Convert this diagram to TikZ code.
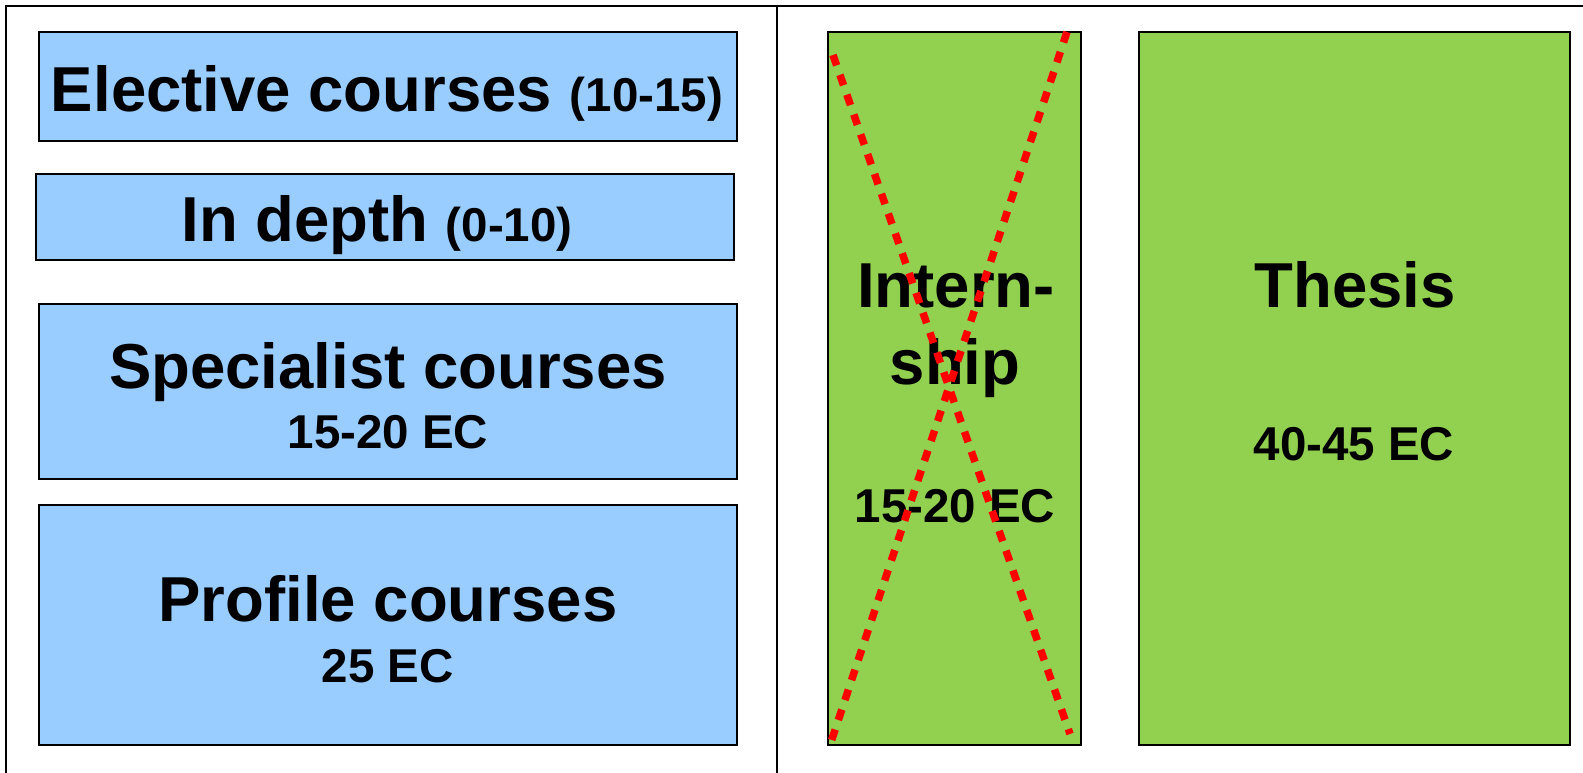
\documentclass[tikz,border=0pt]{standalone}
\usepackage{fontspec}
\setmainfont{Liberation Sans}
\definecolor{boxblue}{HTML}{99CCFF}
\definecolor{boxgreen}{HTML}{92D050}
\definecolor{crossred}{HTML}{FF0000}
\begin{document}
\begin{tikzpicture}[x=1pt,y=-1pt,
  bluebox/.style={draw=black,line width=2pt,fill=boxblue,anchor=north west,inner sep=0pt,outer sep=0pt},
  greenbox/.style={draw=black,line width=2pt,fill=boxgreen,anchor=north west,inner sep=0pt,outer sep=0pt},
  bigtxt/.style={anchor=base,inner sep=0pt,font=\bfseries\fontsize{63.5}{70}\selectfont},
  smalltxt/.style={anchor=base,inner sep=0pt,font=\bfseries\fontsize{47.5}{52}\selectfont},
  frameline/.style={draw=black,line width=2pt},
  crossline/.style={draw=crossred,line width=7.5pt,dash pattern=on 11pt off 10pt}]
\useasboundingbox (0,0) rectangle (1583,773);
% frame
\coordinate (ftl) at (6,6);
\coordinate (ftr) at (1583,6);
\coordinate (fbl) at (6,773);
\coordinate (dtop) at (777,6);
\coordinate (dbot) at (777,773);
\draw[frameline] (ftr) -- (ftl) -- (fbl);
\draw[frameline] (dtop) -- (dbot);
% left boxes
\node[bluebox,minimum width=698pt,minimum height=109pt] (elective) at (39,32) {};
\node[bluebox,minimum width=698pt,minimum height=86pt] (indepth) at (36,174) {};
\node[bluebox,minimum width=698pt,minimum height=175pt] (specialist) at (39,304) {};
\node[bluebox,minimum width=698pt,minimum height=240pt] (profile) at (39,505) {};
% right boxes
\node[greenbox,minimum width=253pt,minimum height=713pt] (intern) at (828,32) {};
\node[greenbox,minimum width=431pt,minimum height=713pt] (thesis) at (1139,32) {};
% texts
\node[bigtxt] (tel) at (387,112) {Elective courses {\fontsize{47.5}{52}\selectfont (10-15)}};
\node[bigtxt] (tid) at (377,241) {In depth {\fontsize{47.5}{52}\selectfont (0-10)}};
\node[bigtxt] (tsp) at (388,388) {Specialist courses};
\node[smalltxt] (tspec) at (388,448) {15-20 EC};
\node[bigtxt] (tpr) at (388,621) {Profile courses};
\node[smalltxt] (tprec) at (388,682) {25 EC};
\node[bigtxt] (tin1) at (956,307) {Intern-};
\node[bigtxt] (tin2) at (955,384) {ship};
\node[smalltxt] (tinec) at (955,522) {15-20 EC};
\node[bigtxt] (tth) at (1355,307) {Thesis};
\node[smalltxt] (tthec) at (1354,460) {40-45 EC};
% red cross
\coordinate (xa1) at (833,55);
\coordinate (xa2) at (1070,734);
\coordinate (xb1) at (1067,32);
\coordinate (xb2) at (831,742);
\draw[crossline] (xa1) -- (xa2);
\draw[crossline] (xb1) -- (xb2);
\end{tikzpicture}
\end{document}
